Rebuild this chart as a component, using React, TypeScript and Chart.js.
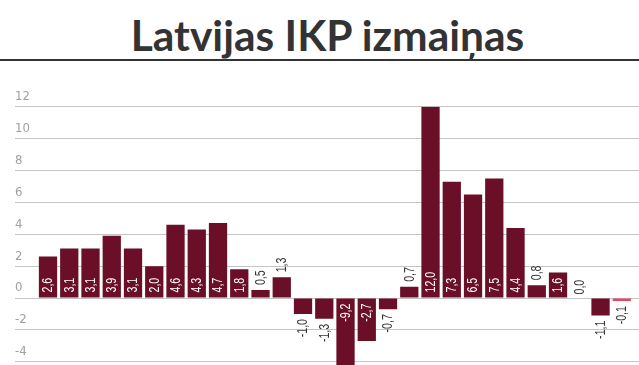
import React, { useEffect, useRef } from 'react';
import { Chart, registerables } from 'chart.js';

Chart.register(...registerables);

const title = 'Latvijas IKP izmaiņas';
const categories = ['1', '2', '3', '4', '5', '6', '7', '8', '9', '10', '11', '12', '13', '14', '15', '16', '17', '18', '19', '20', '21', '22', '23', '24', '25', '26', '27', '28'];
const values = [2.6, 3.1, 3.1, 3.9, 3.1, 2.0, 4.6, 4.3, 4.7, 1.8, 0.5, 1.3, -1.0, -1.3, -9.2, -2.7, -0.7, 0.7, 12.0, 7.3, 6.5, 7.5, 4.4, 0.8, 1.6, 0.0, -1.1, -0.1];
const yTicks = [-4, -2, 0, 2, 4, 6, 8, 10, 12];

const NARROW = '"Liberation Sans Narrow", "DejaVu Sans Condensed", sans-serif';
const LABEL_FONT = '14px "Liberation Sans", Arial, sans-serif';
const BAR_COLOR = '#6a0f27';
const LAST_COLOR = '#e2495e';

const labelPlugin = {
  id: 'barLabels',
  afterDatasetsDraw(chart: any) {
    const ctx = chart.ctx;
    const meta = chart.getDatasetMeta(0);
    const squeeze = 0.76;
    ctx.save();
    ctx.font = LABEL_FONT;
    ctx.textBaseline = 'middle';
    meta.data.forEach((el: any, i: number) => {
      const v = values[i];
      const text = v.toFixed(1).replace('.', ',');
      const w = ctx.measureText(text).width * squeeze;
      const { x, y, base } = el.getProps(['x', 'y', 'base'], true);
      const h = Math.abs(base - y);
      const pad = 5;
      const inside = h >= w + 8;
      let oy: number;
      let align: string;
      if (v >= 0) {
        oy = inside ? base - pad : y - pad;
        align = 'left';
      } else {
        oy = inside ? base + pad : y + pad;
        align = 'right';
      }
      ctx.save();
      ctx.translate(x + 0.5, oy);
      ctx.rotate(-Math.PI / 2);
      ctx.scale(squeeze, 1);
      ctx.textAlign = align;
      ctx.fillStyle = inside ? '#ffffff' : '#333333';
      ctx.fillText(text, 0, 0);
      ctx.restore();
    });
    ctx.restore();
  },
};

export default function App() {
  const ref = useRef<HTMLCanvasElement | null>(null);

  useEffect(() => {
    if (!ref.current) return;
    const chart = new Chart(ref.current, {
      type: 'bar',
      data: {
        labels: categories,
        datasets: [
          {
            data: values.map((v, i) => ({ x: i, y: v })) as any,
            backgroundColor: (c: any) =>
              values[c.dataIndex] === 0
                ? 'rgba(0,0,0,0)'
                : c.dataIndex === values.length - 1
                ? LAST_COLOR
                : BAR_COLOR,
            borderWidth: 0,
            categoryPercentage: 1,
            barPercentage: 0.86,
            minBarLength: 3,
          },
        ],
      },
      options: {
        animation: false,
        responsive: false,
        devicePixelRatio: 1,
        layout: { padding: { top: 45.7, left: 15, right: 0, bottom: 0 } },
        plugins: {
          legend: { display: false },
          tooltip: { enabled: false },
          title: { display: false },
        },
        scales: {
          x: {
            type: 'linear',
            offset: false,
            min: -1.553,
            max: 27.81,
            display: false,
          },
          y: {
            min: -4.2,
            max: 12,
            afterBuildTicks: (scale: any) => {
              scale.ticks = yTicks.map((v) => ({ value: v }));
            },
            afterFit: (scale: any) => {
              scale.paddingTop = 0;
              scale.paddingBottom = 0;
            },
            border: { display: false },
            grid: { color: '#c4c4c4', lineWidth: 1, drawTicks: false },
            ticks: {
              mirror: true,
              padding: 0,
              labelOffset: -10,
              color: '#a0a0a0',
              font: { family: NARROW, size: 13 },
              callback: (v: any) => String(v),
            },
          },
        },
      },
      plugins: [labelPlugin],
    });
    return () => chart.destroy();
  }, []);

  return (
    <div style={{ position: 'fixed', left: 0, top: 0, width: 639, height: 365, background: '#fff', overflow: 'hidden' }}>
      <div
        style={{
          position: 'absolute',
          top: 14,
          left: 8,
          width: 639,
          textAlign: 'center',
          fontFamily: 'Lato, sans-serif',
          fontWeight: 700,
          fontSize: 42.5,
          lineHeight: 1,
          color: '#333333',
          whiteSpace: 'nowrap',
        }}
      >
        {title}
      </div>
      <div style={{ position: 'absolute', top: 59, left: 0, width: 639, height: 2, background: '#333333' }} />
      <canvas ref={ref} width={639} height={304} style={{ position: 'absolute', top: 61, left: 0, width: 639, height: 304 }} />
    </div>
  );
}
